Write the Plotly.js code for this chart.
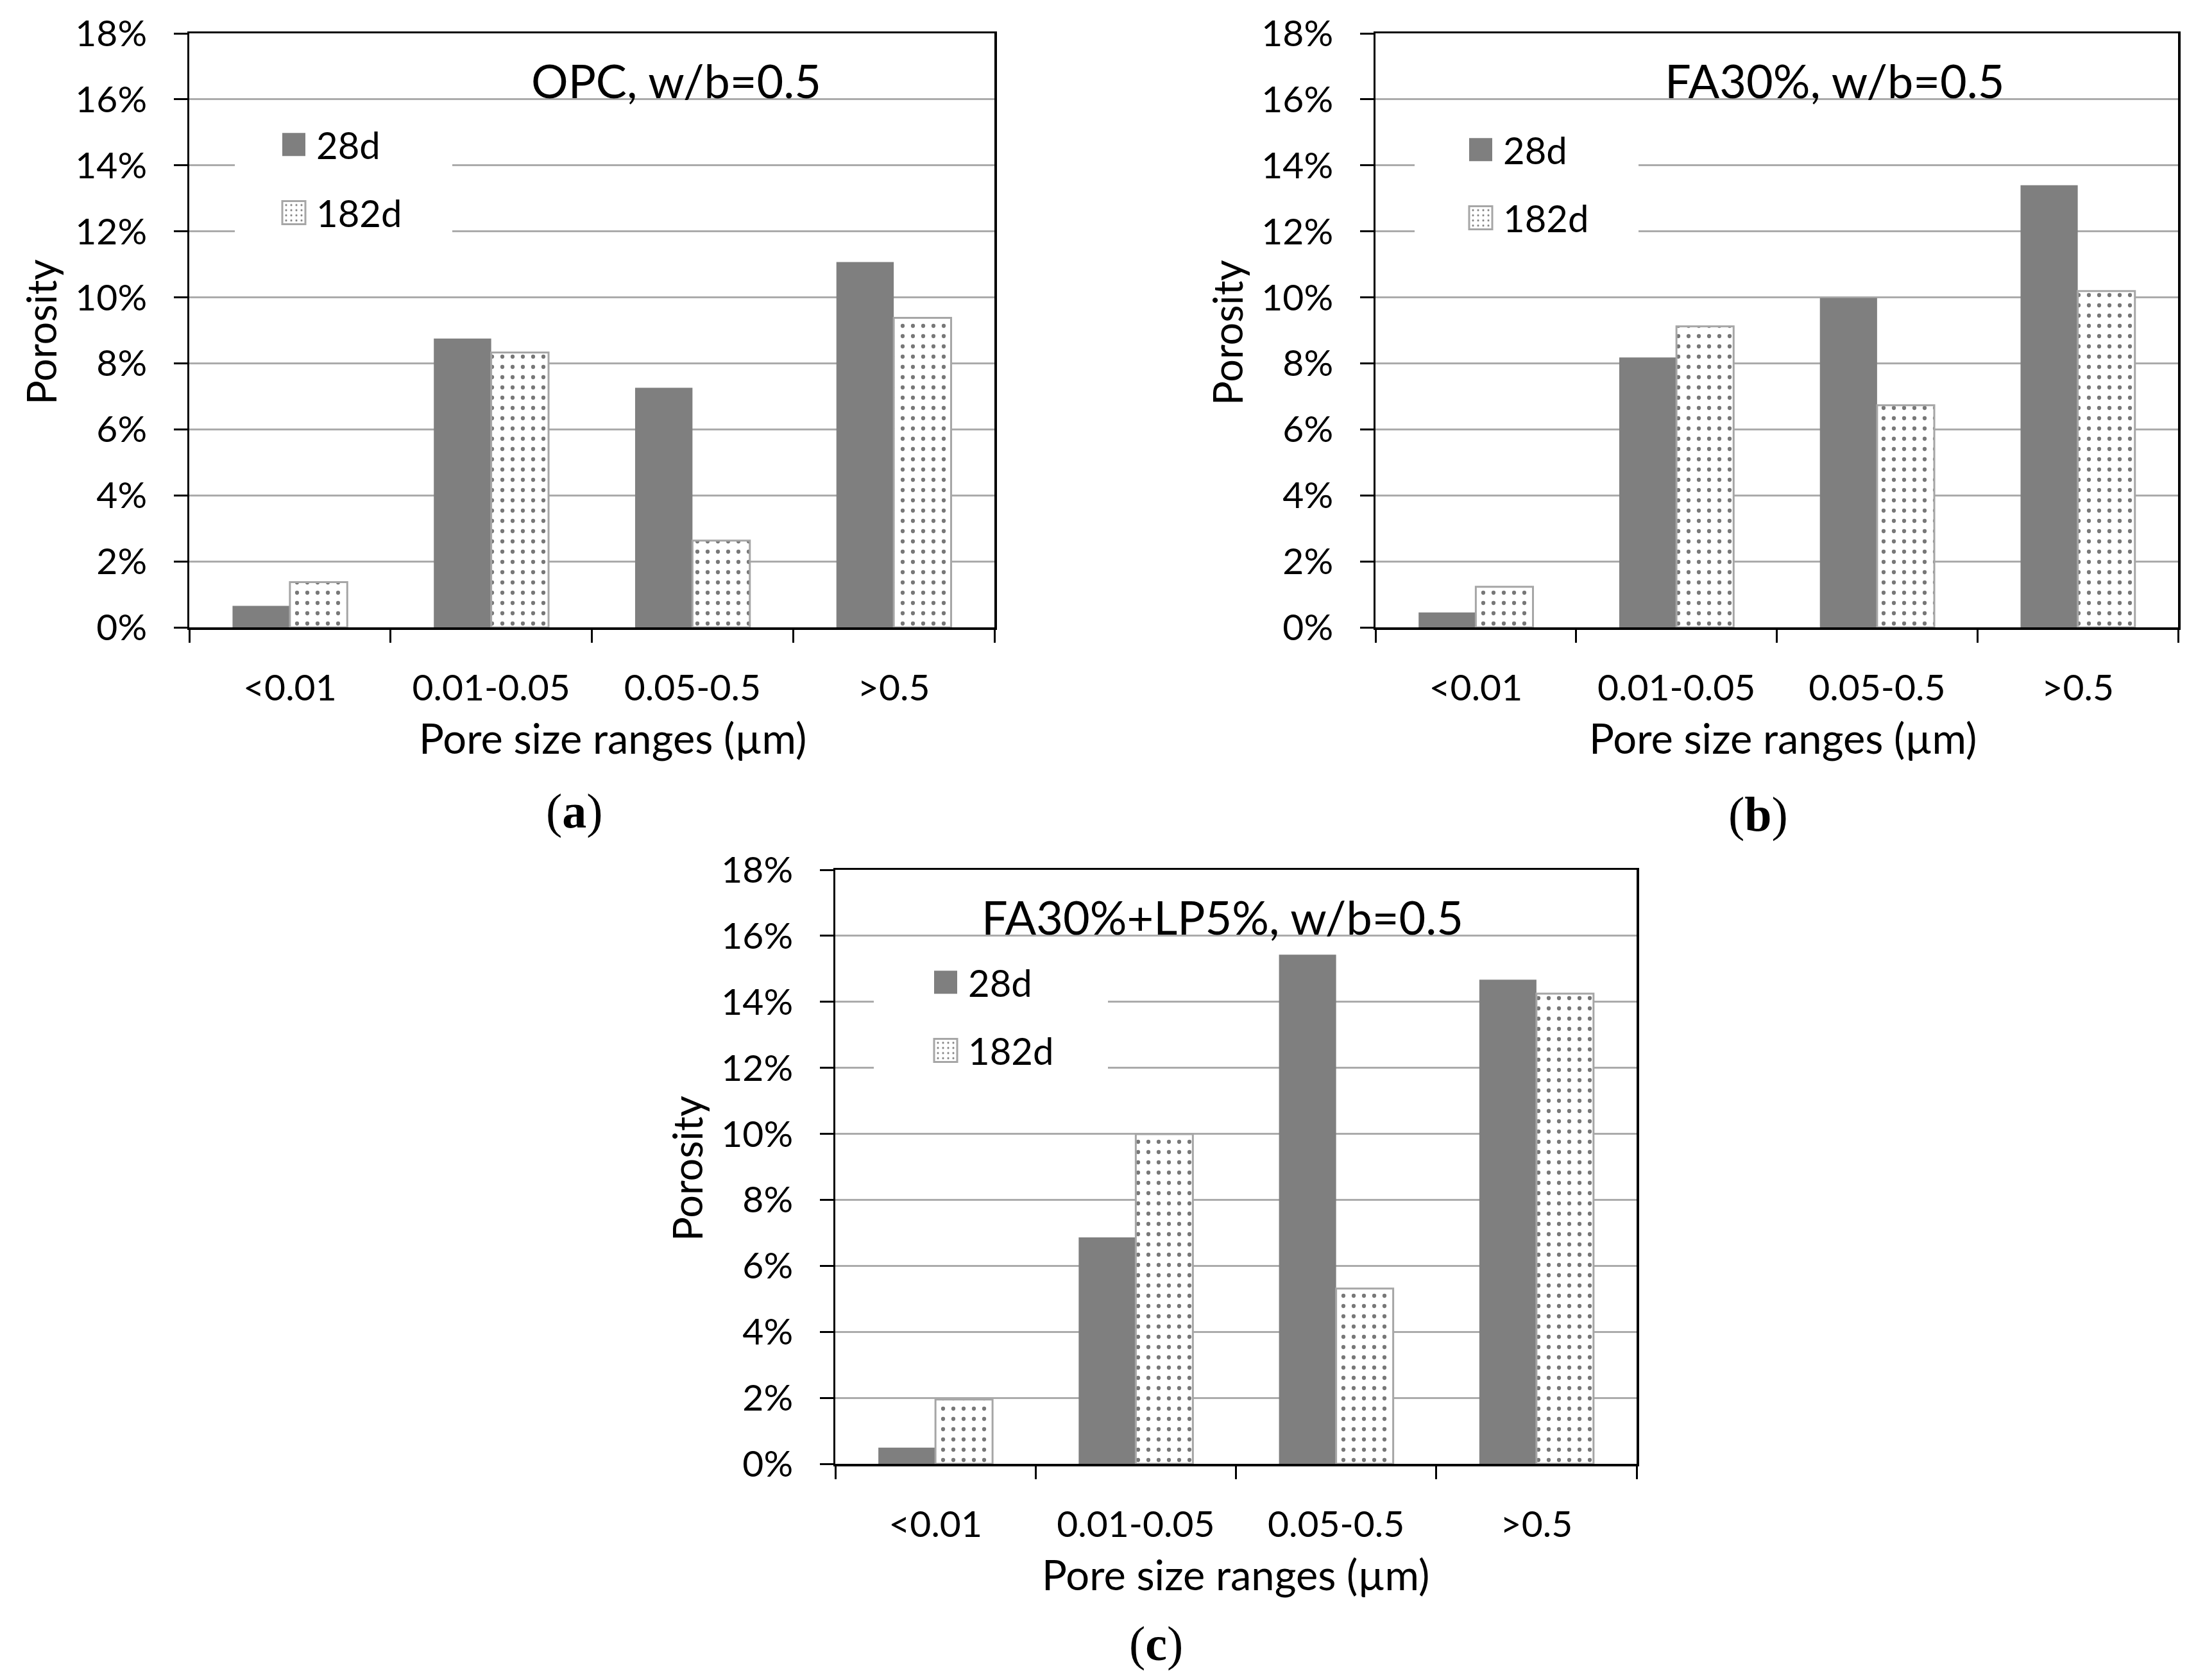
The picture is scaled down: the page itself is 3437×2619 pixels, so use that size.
<!DOCTYPE html>
<html>
<head>
<meta charset="utf-8">
<script src="https://cdn.plot.ly/plotly-3.0.1.min.js"></script>
<style>
  html, body { margin: 0; padding: 0; background: #fff; }
  #chart { width: 3437px; height: 2619px; }
</style>
</head>
<body>
<div id="chart"></div>
<script>
// pore size classes (µm)
const categories = ['<0.01', '0.01-0.05', '0.05-0.5', '>0.5'];
const ages = ['28d', '182d'];

// porosity, as fractions
const opc28 = [0.0065, 0.0875, 0.0726, 0.1107];
const opc182 = [0.0137, 0.0833, 0.0263, 0.0938];
const fa28 = [0.0045, 0.0818, 0.0998, 0.1340];
const fa182 = [0.0123, 0.0912, 0.0673, 0.1019];
const falp28 = [0.0049, 0.0686, 0.1543, 0.1467];
const falp182 = [0.0195, 0.0999, 0.0531, 0.1425];

const panelTitles = ['OPC, w/b=0.5', 'FA30%, w/b=0.5', 'FA30%+LP5%, w/b=0.5'];
const panelLabels = ['a', 'b', 'c'];

const W = 3437, H = 2619;
const fx = p => p / W;
const fy = p => 1 - p / H;

// pixel boxes of each plot area
const panels = [
  { key: '', d28: opc28, d182: opc182, left: 295, right: 1550, top: 52, bottom: 978,
    sq: 145, row: 169, mask: [71, 410], xTitleX: 955, labelX: 896, labelY: 1264 },
  { key: '2', d28: fa28, d182: fa182, left: 2144, right: 3395, top: 52, bottom: 978,
    sq: 146, row: 177, mask: [61, 410], xTitleX: 2779, labelX: 2740, labelY: 1269 },
  { key: '3', d28: falp28, d182: falp182, left: 1302, right: 2551, top: 1356, bottom: 2282,
    sq: 154, row: 171, mask: [60, 425], xTitleX: 1926, labelX: 1802, labelY: 2562 }
];

const FONT = 'Lato, "Open Sans", sans-serif';
const tickFont = { family: FONT, size: 57, color: '#000' };

const traces = [];
const layout = {
  width: W, height: H,
  margin: { l: 0, r: 0, t: 0, b: 0 },
  paper_bgcolor: '#fff',
  plot_bgcolor: '#fff',
  barmode: 'group',
  bargap: 0.43,
  bargroupgap: 0,
  annotations: [],
  shapes: []
};

panels.forEach((p, i) => {
  const xa = 'x' + p.key, ya = 'y' + p.key;
  const lg = 'legend' + p.key;

  traces.push({
    type: 'bar', name: ages[0], x: categories, y: p.d28,
    xaxis: xa, yaxis: ya, legend: lg, legendgroup: lg + 'a',
    marker: { color: '#7f7f7f', line: { width: 0 } },
    hoverinfo: 'skip'
  });
  traces.push({
    type: 'bar', name: ages[1], x: categories, y: p.d182,
    xaxis: xa, yaxis: ya, legend: lg, legendgroup: lg + 'b',
    marker: {
      color: '#fff',
      line: { color: '#a6a6a6', width: 3 },
      pattern: { shape: '.', fgcolor: '#777777', bgcolor: '#fff', size: 16, solidity: 0.12 }
    },
    hoverinfo: 'skip'
  });

  layout['xaxis' + p.key] = {
    domain: [fx(p.left), fx(p.right)], anchor: ya,
    type: 'category', fixedrange: true,
    showline: true, linecolor: '#000', linewidth: 3.5, mirror: true,
    ticks: 'outside', tickson: 'boundaries', ticklen: 20, tickwidth: 3, tickcolor: '#000',
    ticklabelstandoff: 42,
    showgrid: false, zeroline: false,
    tickfont: tickFont
  };
  layout['yaxis' + p.key] = {
    domain: [fy(p.bottom), fy(p.top)], anchor: xa,
    range: [0, 0.18], dtick: 0.02, tickformat: '.0%', fixedrange: true,
    showline: true, linecolor: '#000', linewidth: 3.5, mirror: true,
    ticks: 'outside', ticklen: 21, tickwidth: 3, tickcolor: '#000',
    ticklabelstandoff: 30,
    showgrid: true, gridcolor: '#ababab', gridwidth: 3, zeroline: false,
    tickfont: tickFont
  };

  layout[lg] = {
    x: fx(p.left + p.sq - 17), y: fy(p.top + p.row - 40),
    xanchor: 'left', yanchor: 'top',
    bgcolor: 'rgba(255,255,255,0)', borderwidth: 0,
    itemwidth: 60, tracegroupgap: 28,
    font: { family: FONT, size: 58, color: '#000' }
  };

  // white patch behind the legend, as in the source chart
  layout.shapes.push({
    type: 'rect', layer: 'above',
    xref: xa + ' domain', yref: ya,
    x0: p.mask[0] / (p.right - p.left), x1: p.mask[1] / (p.right - p.left),
    y0: 0.115, y1: 0.155,
    fillcolor: '#fff', line: { width: 0 }
  });

  layout.annotations.push(
    { text: panelTitles[i], xref: 'paper', yref: 'paper',
      x: fx(p.right - 268), y: fy(p.top + 73), xanchor: 'right', yanchor: 'middle',
      showarrow: false, font: { family: FONT, size: 72, color: '#000' } },
    { text: 'Pore size ranges (µm)', xref: 'paper', yref: 'paper',
      x: fx(p.xTitleX), y: fy(p.bottom + 172), xanchor: 'center', yanchor: 'middle',
      showarrow: false, font: { family: FONT, size: 65, color: '#000' } },
    { text: 'Porosity', xref: 'paper', yref: 'paper', textangle: -90,
      x: fx(p.left - 232), y: fy((p.top + p.bottom) / 2 + 3), xanchor: 'center', yanchor: 'middle',
      showarrow: false, font: { family: FONT, size: 63, color: '#000' } },
    { text: '(<b>' + panelLabels[i] + '</b>)', xref: 'paper', yref: 'paper',
      x: fx(p.labelX), y: fy(p.labelY), xanchor: 'center', yanchor: 'middle',
      showarrow: false, font: { family: '"Liberation Serif", "DejaVu Serif", serif', size: 76, color: '#000' } }
  );
});

const config = { displayModeBar: false, responsive: false, staticPlot: true };

function bigSwatches() {
  // plotly draws 12px legend swatches; the source uses larger ones
  document.querySelectorAll('#chart g.legendpoints path').forEach(el => {
    el.setAttribute('d', 'M18,18H-18V-18H18Z');
  });
}

Plotly.newPlot('chart', traces, layout, config)
  .then(bigSwatches)
  .catch(err => { console.error(err); bigSwatches(); });
setTimeout(bigSwatches, 200);
setTimeout(bigSwatches, 800);
</script>
</body>
</html>
